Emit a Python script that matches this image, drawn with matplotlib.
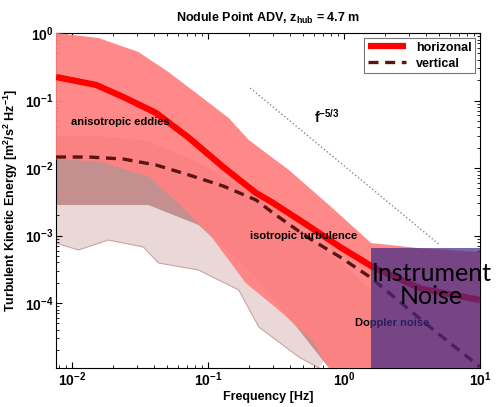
import numpy as np
import matplotlib
matplotlib.use("Agg")
import matplotlib.pyplot as plt
from matplotlib.ticker import FuncFormatter

plt.rcParams['font.family'] = ['Liberation Sans', 'DejaVu Sans']
plt.rcParams['font.weight'] = 'bold'
plt.rcParams['mathtext.fontset'] = 'custom'
plt.rcParams['mathtext.rm'] = 'Liberation Sans:bold'
plt.rcParams['mathtext.bf'] = 'Liberation Sans:bold'
plt.rcParams['mathtext.it'] = 'Liberation Sans:bold'
plt.rcParams['mathtext.default'] = 'bf'

# mean spectra
f_horiz = [0.0076, 0.015, 0.0237, 0.0415, 0.0725, 0.129, 0.225, 0.301, 0.535, 0.935, 1.63, 3.62, 10.0]
s_horiz = [0.223, 0.17, 0.113, 0.0653, 0.0278, 0.01035, 0.00427, 0.00303, 0.00143, 0.000676,
           0.000341, 0.000165, 0.000111]

f_vert = [0.0076, 0.0133, 0.0237, 0.0415, 0.0725, 0.129, 0.225, 0.301, 0.535, 0.935, 1.55, 4.29, 10.0]
s_vert = [0.01455, 0.01455, 0.0136, 0.01107, 0.00787, 0.00541, 0.00336, 0.00215, 0.00095, 0.00048,
          0.000243, 4.41e-5, 1.13e-5]

# envelope of the individual horizontal spectra (pink cloud)
f_pink_top = [0.0076, 0.0156, 0.0307, 0.0511, 0.0851, 0.1416, 0.199, 0.393, 0.775, 1.58, 3.58, 10.0]
s_pink_top = [1.0, 0.843, 0.523, 0.264, 0.121, 0.0551, 0.026, 0.00934, 0.00283, 0.000774, 0.00065, 0.00057]
f_pink_bot = [0.0076, 0.0156, 0.0364, 0.0606, 0.106, 0.189, 0.331, 0.581, 0.775, 10.0]
s_pink_bot = [0.0135, 0.0125, 0.0075, 0.003, 0.00095, 0.000198, 7.87e-5, 2.83e-5, 1.09e-5, 1.09e-5]

# envelope of the individual vertical spectra (grey cloud)
f_grey_top = [0.0076, 0.0156, 0.0364, 0.0851, 0.199, 0.466, 1.09, 1.58]
s_grey_top = [0.03, 0.03, 0.025, 0.012, 0.0045, 0.00121, 0.000308, 0.000156]
f_grey_bot = [0.0076, 0.0156, 0.0364, 0.0851, 0.199, 0.466, 0.775, 1.58]
s_grey_bot = [0.00283, 0.00283, 0.00283, 0.00143, 0.000308, 3.98e-5, 1.09e-5, 1.09e-5]

# lowest single vertical spectrum
f_low = [0.0076, 0.0111, 0.01845, 0.0334, 0.0431, 0.0851, 0.168, 0.236, 0.466, 0.654]
s_low = [0.000774, 0.00061, 0.000857, 0.000676, 0.000392, 0.000308, 0.000156, 4.41e-5, 1.58e-5, 1.09e-5]

fig = plt.figure(figsize=(4.97, 4.07), dpi=100)
ax = fig.add_axes([0.1127, 0.0958, 0.8531, 0.8231])
ax.set_xscale('log')
ax.set_yscale('log')

# sparse lower part of the grey cloud
ax.fill(np.r_[f_low, f_grey_top[::-1]], np.r_[s_low, s_grey_top[::-1]],
        color='#ead8d8', lw=0, zorder=1)
ax.plot(f_low, s_low, color='#c9a3a3', lw=0.8, zorder=1.5)
# dense grey part
ax.fill(np.r_[f_grey_top, f_grey_bot[::-1]], np.r_[s_grey_top, s_grey_bot[::-1]],
        color='#c48f8f', lw=0, zorder=2)
# pink cloud
ax.fill(np.r_[f_pink_top, f_pink_bot[::-1]], np.r_[s_pink_top, s_pink_bot[::-1]],
        color='#ff8282', alpha=0.95, lw=0, zorder=3)

ax.plot(f_horiz, s_horiz, color='#ff0000', lw=4.5, zorder=5, label='horizonal',
        solid_capstyle='butt', solid_joinstyle='round')
ax.plot(f_vert, s_vert, color='#5a1414', lw=2.4, ls=(0, (3, 2)), zorder=5, label='vertical')

# f^-5/3 reference
f_ref = np.array([0.204, 5.08])
ax.plot(f_ref, 0.0108 * f_ref ** (-5.0 / 3.0), color='#888888', ls=':', lw=1.0, zorder=4)
ax.text(0.6, 0.057, r'f$^{-5/3}$', fontsize=10, fontweight='bold', ha='left', va='center')

ax.text(0.0098, 0.048, 'anisotropic eddies', fontsize=8, fontweight='bold', va='center', zorder=6)
ax.text(0.204, 0.00098, 'isotropic turbulence', fontsize=8, fontweight='bold', va='center', zorder=6)
ax.text(1.2, 5.06e-5, 'Doppler noise', fontsize=8, fontweight='bold', va='center', zorder=6)

# instrument noise box
noise_f0, noise_top = 1.58, 6.5e-4
ax.fill_between([noise_f0, 10.0], 1.09e-5, noise_top, color='#3e2986', alpha=0.7, lw=0, zorder=7)
ax.text(4.4, 1.85e-4, 'Instrument\nNoise', fontsize=18, fontweight='normal', family='Lato',
        ha='center', va='center', linespacing=0.95, zorder=8, clip_on=False)

ax.set_xlim(0.0076, 10)
ax.set_ylim(1.09e-5, 1)
fmt = FuncFormatter(lambda v, p: r'$\mathbf{10^{%d}}$' % int(round(np.log10(v))))
ax.xaxis.set_major_formatter(fmt)
ax.yaxis.set_major_formatter(fmt)
ax.tick_params(which='both', direction='in', top=True, right=True, labelsize=10)
ax.tick_params(which='major', length=4, pad=2)
ax.tick_params(which='minor', length=2)
for sp in ax.spines.values():
    sp.set_linewidth(0.8)

ax.set_xlabel('Frequency [Hz]', fontsize=9, fontweight='bold', labelpad=1)
ax.set_ylabel(r'Turbulent Kinetic Energy [m$^2$/s$^2$ Hz$^{-1}$]', fontsize=9,
              fontweight='bold', labelpad=3)
ax.set_title(r'Nodule Point ADV, z$_{\rm hub}$ = 4.7 m', fontsize=9, fontweight='bold', pad=8)

leg = ax.legend(loc='upper right', fontsize=9, frameon=True, fancybox=False,
                handlelength=3, borderpad=0.3, labelspacing=0.3, borderaxespad=0.4)
leg.get_frame().set_edgecolor('#555555')
leg.get_frame().set_linewidth(0.8)
leg.set_zorder(10)

fig.savefig('out.png', dpi=100)
